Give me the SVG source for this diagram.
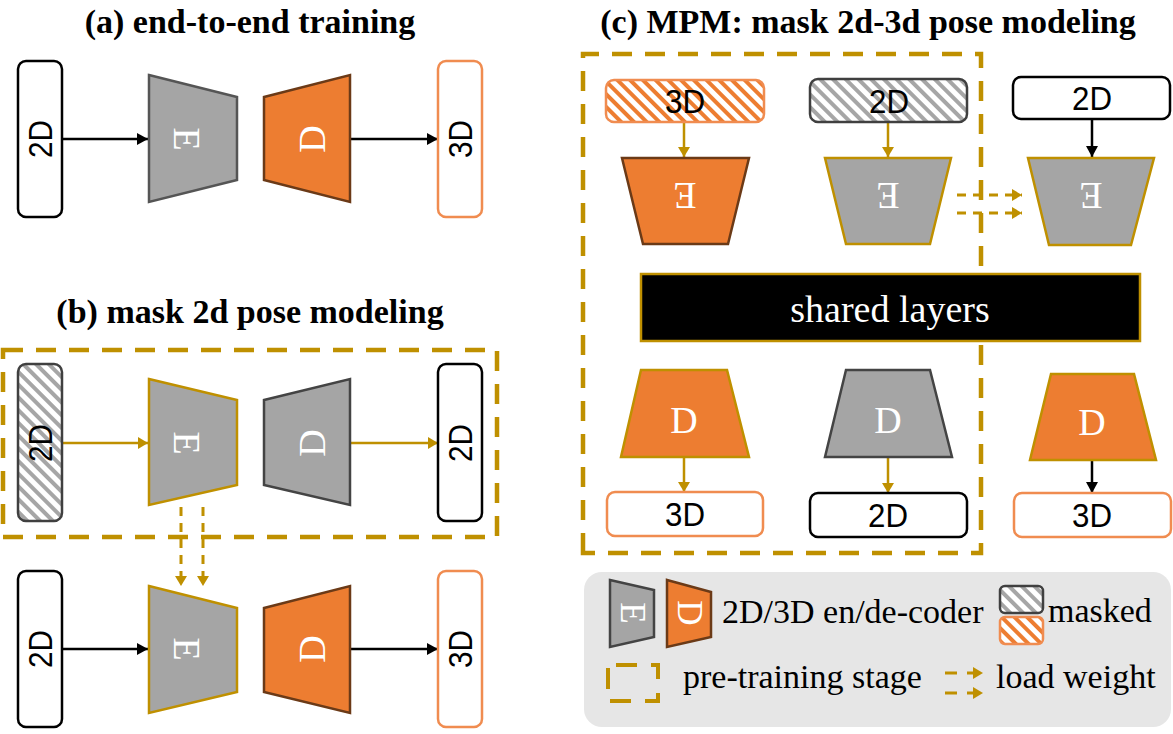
<svg xmlns="http://www.w3.org/2000/svg" width="1173" height="734" viewBox="0 0 1173 734">
<defs>
<style>
.title{font-family:"Liberation Serif","Times New Roman",serif;font-weight:bold;font-size:34px;fill:#000}
.leg{font-family:"Liberation Serif","Times New Roman",serif;font-size:34px;fill:#000}
.lbl{font-family:"Liberation Sans",Arial,sans-serif;font-size:34px;fill:#000}
.let{font-family:"Liberation Serif","Times New Roman",serif;font-size:38px;fill:#fff}
.enc{fill:#a5a5a5;stroke:#555;stroke-width:2.5;stroke-linejoin:miter}
.encg{fill:#a5a5a5;stroke:#bf9000;stroke-width:2.5}
.decg{fill:#a5a5a5;stroke:#444;stroke-width:2.5}
.deco{fill:#ed7d31;stroke:#6b3a17;stroke-width:2.5}
.decog{fill:#ed7d31;stroke:#bf9000;stroke-width:2.5}
.bk{fill:#fff;stroke:#000;stroke-width:2.5}
.bo{fill:#fff;stroke:#f08c50;stroke-width:2.5}
.bmg{fill:url(#hg);stroke:#404040;stroke-width:2.5}
.bmo{fill:url(#ho);stroke:#f08c50;stroke-width:2.5}
.ab{stroke:#000;stroke-width:2.5;fill:none;marker-end:url(#mb)}
.ag{stroke:#bf9000;stroke-width:2.5;fill:none;marker-end:url(#mg)}
.lw{stroke:#bf9000;stroke-width:3;fill:none;stroke-dasharray:9 7;marker-end:url(#mg)}
.dash{fill:none;stroke:#bf9000;stroke-width:4.5;stroke-dasharray:20 13}
</style>
<pattern id="hg" patternUnits="userSpaceOnUse" width="9" height="9" patternTransform="rotate(-45)">
<rect width="9" height="9" fill="#fff"/><rect width="4" height="9" fill="#a6a6a6"/>
</pattern>
<pattern id="ho" patternUnits="userSpaceOnUse" width="9" height="9" patternTransform="rotate(-45)">
<rect width="9" height="9" fill="#fff"/><rect width="4" height="9" fill="#ed7d31"/>
</pattern>
<marker id="mb" markerUnits="userSpaceOnUse" markerWidth="12" markerHeight="12" refX="11" refY="6" orient="auto">
<path d="M0,0 L11,6 L0,12 z" fill="#000"/>
</marker>
<marker id="mg" markerUnits="userSpaceOnUse" markerWidth="12" markerHeight="12" refX="10" refY="6" orient="auto">
<path d="M0,0 L10,6 L0,12 z" fill="#bf9000"/>
</marker>
</defs>
<rect width="1173" height="734" fill="#fff"/>

<!-- titles -->
<text class="title" x="250" y="33" text-anchor="middle">(a) end-to-end training</text>
<text class="title" x="250" y="323" text-anchor="middle">(b) mask 2d pose modeling</text>
<text class="title" x="868" y="33" text-anchor="middle">(c) MPM: mask 2d-3d pose modeling</text>

<!-- pre-training dashed boxes -->
<rect class="dash" x="3" y="350" width="494" height="187"/>
<path class="dash" d="M583,553 L583,54 L981,54 L981,553 Z"/>

<!-- connectors -->
<g id="connectors">
<line class="ab" x1="62" y1="139" x2="148" y2="139"/>
<line class="ab" x1="350" y1="139" x2="438" y2="139"/>
<line class="ag" x1="62" y1="443" x2="148" y2="443"/>
<line class="ag" x1="350" y1="443" x2="438" y2="443"/>
<line class="lw" x1="181" y1="507" x2="181" y2="586"/>
<line class="lw" x1="203" y1="507" x2="203" y2="586"/>
<line class="ab" x1="62" y1="649" x2="148" y2="649"/>
<line class="ab" x1="350" y1="649" x2="438" y2="649"/>
<line class="ag" x1="684" y1="122" x2="684" y2="157"/>
<line class="ag" x1="888" y1="122" x2="888" y2="157"/>
<line class="ab" x1="1092" y1="119" x2="1092" y2="157"/>
<line class="lw" x1="957" y1="195" x2="1022" y2="195"/>
<line class="lw" x1="957" y1="213" x2="1022" y2="213"/>
<line class="ag" x1="684" y1="457" x2="684" y2="492"/>
<line class="ag" x1="888" y1="457" x2="888" y2="493"/>
<line class="ab" x1="1092" y1="460" x2="1092" y2="493"/>
</g>

<!-- panel a -->
<g id="a-in"><rect class="bk" x="18" y="61" width="44" height="156" rx="8"/><text class="lbl" transform="translate(40,139) rotate(-90)" text-anchor="middle" dominant-baseline="central" textLength="38" lengthAdjust="spacingAndGlyphs">2D</text></g>
<g id="a-enc"><polygon class="enc" points="149,75 237,97 237,180 149,202"/><text class="let" transform="translate(187,139) rotate(90)" text-anchor="middle" dominant-baseline="central">E</text></g>
<g id="a-dec"><polygon class="deco" points="264,97 350,75 350,202 264,180"/><text class="let" transform="translate(312,139) rotate(-90)" text-anchor="middle" dominant-baseline="central">D</text></g>
<g id="a-out"><rect class="bo" x="438" y="61" width="44" height="156" rx="8"/><text class="lbl" transform="translate(460,139) rotate(-90)" text-anchor="middle" dominant-baseline="central" textLength="38" lengthAdjust="spacingAndGlyphs">3D</text></g>

<!-- panel b -->
<g id="b-in"><rect class="bmg" x="18" y="364" width="44" height="157" rx="8"/><text class="lbl" transform="translate(40,443) rotate(-90)" text-anchor="middle" dominant-baseline="central" textLength="38" lengthAdjust="spacingAndGlyphs">2D</text></g>
<g id="b-enc"><polygon class="encg" points="149,379 237,400 237,485 149,505"/><text class="let" transform="translate(187,443) rotate(90)" text-anchor="middle" dominant-baseline="central">E</text></g>
<g id="b-dec"><polygon class="decg" points="264,400 350,379 350,505 264,485"/><text class="let" transform="translate(312,443) rotate(-90)" text-anchor="middle" dominant-baseline="central">D</text></g>
<g id="b-out"><rect class="bk" x="438" y="364" width="44" height="157" rx="8"/><text class="lbl" transform="translate(460,443) rotate(-90)" text-anchor="middle" dominant-baseline="central" textLength="38" lengthAdjust="spacingAndGlyphs">2D</text></g>

<g id="b2-in"><rect class="bk" x="18" y="571" width="44" height="156" rx="8"/><text class="lbl" transform="translate(40,649) rotate(-90)" text-anchor="middle" dominant-baseline="central" textLength="38" lengthAdjust="spacingAndGlyphs">2D</text></g>
<g id="b2-enc"><polygon class="encg" points="149,586 237,608 237,692 149,713"/><text class="let" transform="translate(187,649) rotate(90)" text-anchor="middle" dominant-baseline="central">E</text></g>
<g id="b2-dec"><polygon class="deco" points="264,608 350,586 350,713 264,692"/><text class="let" transform="translate(312,649) rotate(-90)" text-anchor="middle" dominant-baseline="central">D</text></g>
<g id="b2-out"><rect class="bo" x="438" y="571" width="44" height="156" rx="8"/><text class="lbl" transform="translate(460,649) rotate(-90)" text-anchor="middle" dominant-baseline="central" textLength="38" lengthAdjust="spacingAndGlyphs">3D</text></g>

<!-- panel c -->
<g id="c-in3d"><rect class="bmo" x="606" y="80" width="158" height="42" rx="8"/><text class="lbl" x="685" y="101" text-anchor="middle" dominant-baseline="central" textLength="40" lengthAdjust="spacingAndGlyphs">3D</text></g>
<g id="c-in2dm"><rect class="bmg" x="810" y="79" width="157" height="43" rx="8"/><text class="lbl" x="889" y="101" text-anchor="middle" dominant-baseline="central" textLength="40" lengthAdjust="spacingAndGlyphs">2D</text></g>
<g id="c-in2d"><rect class="bk" x="1013" y="77" width="157" height="42" rx="8"/><text class="lbl" x="1092" y="98" text-anchor="middle" dominant-baseline="central" textLength="40" lengthAdjust="spacingAndGlyphs">2D</text></g>

<g id="c-enc3d"><polygon class="deco" points="622,158 749,158 728,244 643,244"/><text class="let" transform="translate(685,196) rotate(180)" text-anchor="middle" dominant-baseline="central">E</text></g>
<g id="c-enc2dm"><polygon class="encg" points="825,158 951,158 930,244 846,244"/><text class="let" transform="translate(888,196) rotate(180)" text-anchor="middle" dominant-baseline="central">E</text></g>
<g id="c-enc2d"><polygon class="encg" points="1028,158 1154,158 1131,245 1049,245"/><text class="let" transform="translate(1091,196) rotate(180)" text-anchor="middle" dominant-baseline="central">E</text></g>

<g id="c-shared"><rect x="641" y="274" width="499" height="67" fill="#000" stroke="#bf9000" stroke-width="2.5"/><text x="890" y="322" text-anchor="middle" font-family="'Liberation Serif','Times New Roman',serif" font-size="38" fill="#fff">shared layers</text></g>

<g id="c-dec3d"><polygon class="decog" points="641,370 727,370 749,457 621,457"/><text class="let" x="684" y="420" text-anchor="middle" dominant-baseline="central">D</text></g>
<g id="c-dec2d"><polygon class="decg" points="846,370 930,370 952,457 825,457"/><text class="let" x="888" y="420" text-anchor="middle" dominant-baseline="central">D</text></g>
<g id="c-dec3d2"><polygon class="decog" points="1051,374 1134,374 1156,460 1030,460"/><text class="let" x="1092" y="422" text-anchor="middle" dominant-baseline="central">D</text></g>

<g id="c-out3d"><rect class="bo" x="607" y="492" width="156" height="44" rx="8"/><text class="lbl" x="685" y="514" text-anchor="middle" dominant-baseline="central" textLength="40" lengthAdjust="spacingAndGlyphs">3D</text></g>
<g id="c-out2d"><rect class="bk" x="810" y="493" width="157" height="44" rx="8"/><text class="lbl" x="888" y="515" text-anchor="middle" dominant-baseline="central" textLength="40" lengthAdjust="spacingAndGlyphs">2D</text></g>
<g id="c-out3d2"><rect class="bo" x="1014" y="493" width="157" height="44" rx="8"/><text class="lbl" x="1092" y="515" text-anchor="middle" dominant-baseline="central" textLength="40" lengthAdjust="spacingAndGlyphs">3D</text></g>

<!-- legend -->
<g id="legend">
<rect x="584" y="572" width="587" height="155" rx="18" fill="#e6e6e6"/>
<polygon class="decg" points="610,580 654,590 654,637 610,647"/>
<text class="let" transform="translate(632,613) rotate(90)" text-anchor="middle" dominant-baseline="central" style="font-size:35px">E</text>
<polygon class="deco" points="667,580 711,592 711,637 667,647"/>
<text class="let" transform="translate(689,613) rotate(90)" text-anchor="middle" dominant-baseline="central" style="font-size:35px">D</text>
<text class="leg" x="722" y="623">2D/3D en/de-coder</text>
<rect class="bmg" x="1000" y="586" width="43" height="27" rx="5"/>
<rect class="bmo" x="1000" y="617" width="43" height="27" rx="5"/>
<text class="leg" x="1048" y="622">masked</text>
<rect x="608" y="665" width="50" height="36" fill="none" stroke="#bf9000" stroke-width="4" stroke-dasharray="21 14" stroke-dashoffset="-8"/>
<text class="leg" x="683" y="688">pre-training stage</text>
<line class="lw" x1="945" y1="673" x2="983" y2="673" style="stroke-dasharray:12 10"/>
<line class="lw" x1="945" y1="693" x2="983" y2="693" style="stroke-dasharray:12 10"/>
<text class="leg" x="996" y="688">load weight</text>
</g>
</svg>
